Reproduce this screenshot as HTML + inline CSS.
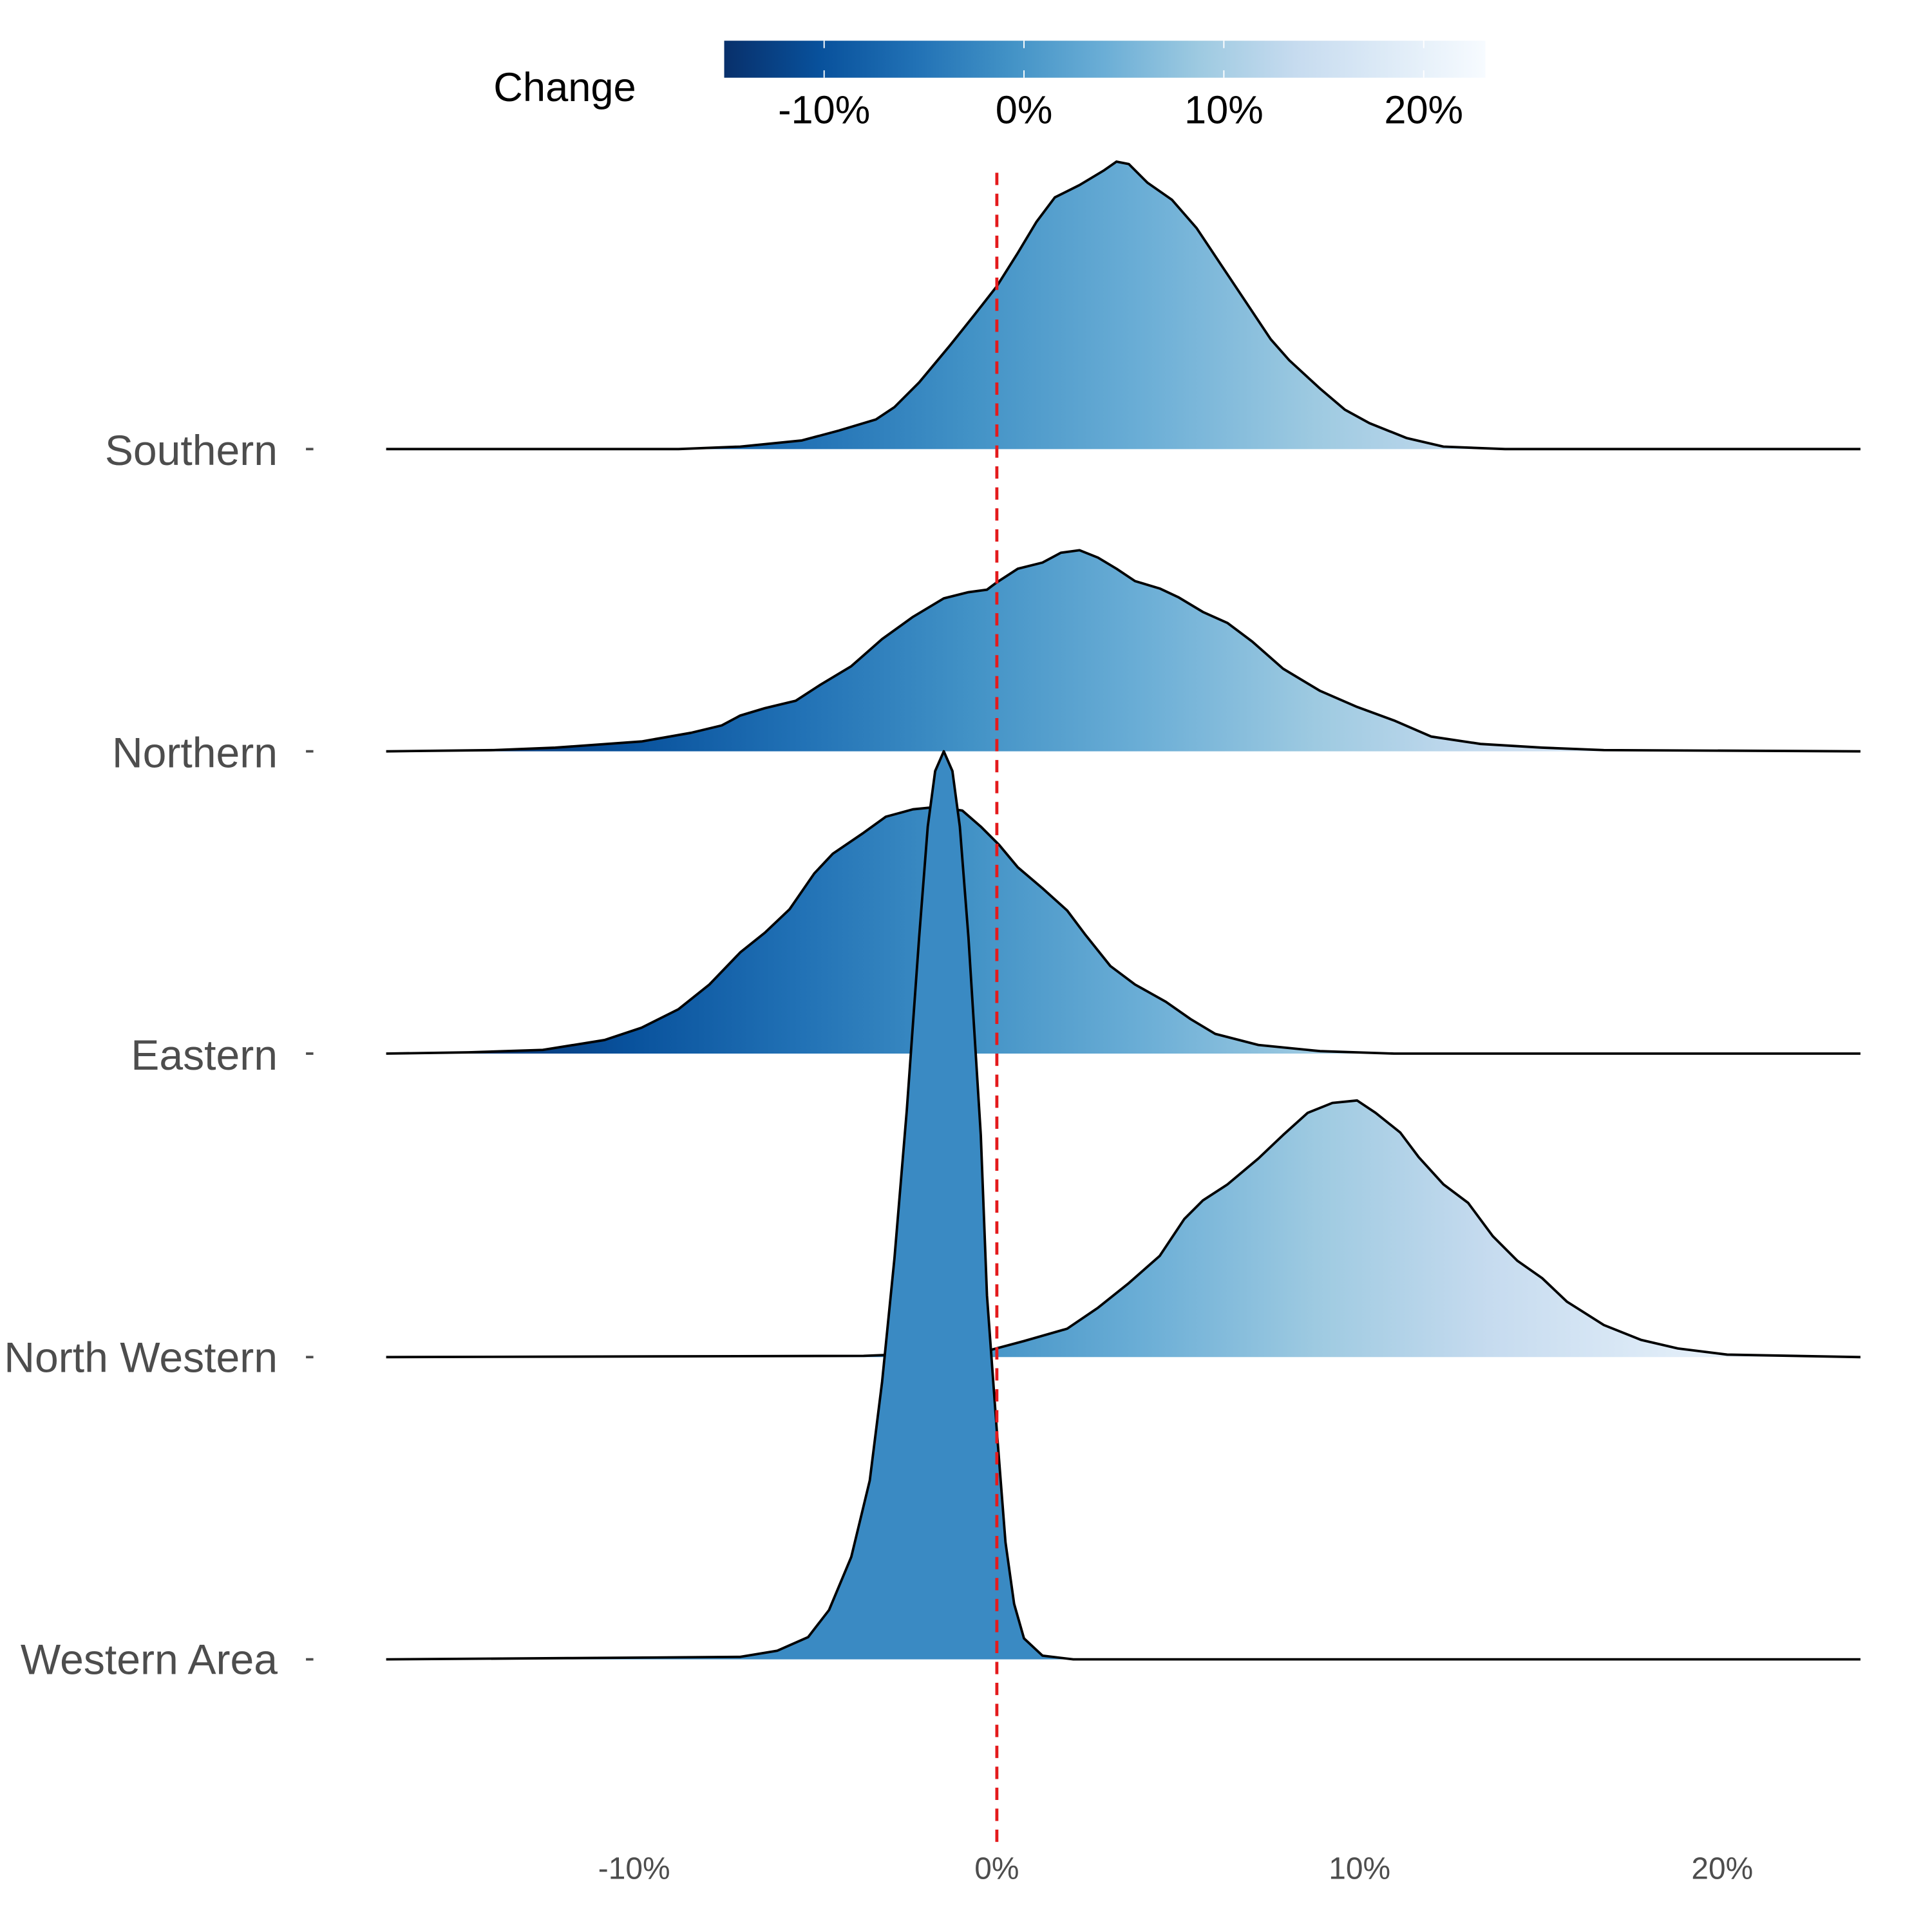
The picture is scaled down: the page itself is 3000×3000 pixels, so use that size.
<!DOCTYPE html>
<html><head><meta charset="utf-8"><style>html,body{margin:0;padding:0;background:#fff}svg{display:block}</style></head>
<body>
<svg width="3000" height="3000" viewBox="0 0 1566 1566" xmlns="http://www.w3.org/2000/svg" font-family="Liberation Sans, sans-serif">
<defs>
<linearGradient id="g" gradientUnits="userSpaceOnUse" x1="367" y1="0" x2="1487" y2="0">
<stop offset="0" stop-color="#08306b"/><stop offset="0.125" stop-color="#08519c"/><stop offset="0.25" stop-color="#2171b5"/><stop offset="0.375" stop-color="#4292c6"/><stop offset="0.5" stop-color="#6baed6"/><stop offset="0.625" stop-color="#9ecae1"/><stop offset="0.75" stop-color="#c6dbef"/><stop offset="0.875" stop-color="#deebf7"/><stop offset="1" stop-color="#f7fbff"/>
</linearGradient>
<linearGradient id="cb" x1="0" y1="0" x2="1" y2="0">
<stop offset="0" stop-color="#08306b"/><stop offset="0.125" stop-color="#08519c"/><stop offset="0.25" stop-color="#2171b5"/><stop offset="0.375" stop-color="#4292c6"/><stop offset="0.5" stop-color="#6baed6"/><stop offset="0.625" stop-color="#9ecae1"/><stop offset="0.75" stop-color="#c6dbef"/><stop offset="0.875" stop-color="#deebf7"/><stop offset="1" stop-color="#f7fbff"/>
</linearGradient>
</defs>
<rect x="587" y="33" width="617" height="30" fill="url(#cb)"/>
<g stroke="#fff" stroke-width="1"><line x1="668" y1="33" x2="668" y2="39"/><line x1="668" y1="57" x2="668" y2="63"/><line x1="830" y1="33" x2="830" y2="39"/><line x1="830" y1="57" x2="830" y2="63"/><line x1="992" y1="33" x2="992" y2="39"/><line x1="992" y1="57" x2="992" y2="63"/><line x1="1154" y1="33" x2="1154" y2="39"/><line x1="1154" y1="57" x2="1154" y2="63"/></g>
<text x="400" y="82" font-size="33" fill="#000">Change</text>
<g font-size="32" fill="#000" text-anchor="middle"><text x="668" y="100">-10%</text><text x="830" y="100">0%</text><text x="992" y="100">10%</text><text x="1154" y="100">20%</text></g>
<g font-size="34.5" fill="#4d4d4d" text-anchor="end">
<text x="225" y="377">Southern</text><text x="225" y="622">Northern</text><text x="225" y="867">Eastern</text><text x="225" y="1112">North Western</text><text x="225" y="1357">Western Area</text></g>
<g stroke="#4d4d4d" stroke-width="2"><line x1="248" y1="364" x2="254" y2="364"/><line x1="248" y1="609" x2="254" y2="609"/><line x1="248" y1="854" x2="254" y2="854"/><line x1="248" y1="1100" x2="254" y2="1100"/><line x1="248" y1="1345" x2="254" y2="1345"/></g>
<g font-size="25" fill="#4d4d4d" text-anchor="middle"><text x="514" y="1523">-10%</text><text x="808" y="1523">0%</text><text x="1102" y="1523">10%</text><text x="1396" y="1523">20%</text></g>
<g stroke="#000" stroke-width="2" stroke-linejoin="round" fill="url(#g)">
<polyline points="313,364 550,364 600,362 650,357 680,349 710,340 725,330 745,310 770,280 790,255 808,232 825,205 840,180 855,160 875,150 895,138 905,131 915,133 930,148 950,162 970,185 990,215 1010,245 1030,275 1045,292 1070,315 1090,332 1110,343 1140,355 1170,362 1220,364 1508,364"/>
<polyline points="313,609 400,608 450,606 520,601 560,594 585,588 600,580 620,574 645,568 665,555 690,540 715,518 740,500 765,485 785,480 800,478 808,472 825,461 845,456 860,448 875,446 890,452 905,461 920,471 940,477 955,484 975,496 995,505 1015,520 1040,542 1070,560 1100,573 1130,584 1160,597 1200,603 1250,606 1300,608 1508,609"/>
<polyline points="313,854 380,853 440,851 490,843 520,833 550,818 575,798 600,772 620,756 640,737 660,708 675,692 700,675 718,662 740,656 760,654 780,657 795,670 810,685 825,703 845,720 865,738 880,758 900,783 920,798 945,812 965,826 985,838 1020,847 1070,852 1130,854 1508,854"/>
<polyline points="313,1100 700,1099 800,1095 830,1087 865,1077 890,1060 915,1040 940,1018 960,988 975,973 995,960 1020,939 1040,920 1060,902 1080,894 1100,892 1115,902 1135,918 1150,938 1170,960 1190,975 1210,1002 1230,1022 1250,1036 1270,1055 1300,1074 1330,1086 1360,1093 1400,1098 1508,1100"/>
<polyline fill="#3a8ac3" points="313,1345 460,1344 600,1343 630,1338 655,1327 672,1305 690,1262 705,1200 715,1120 725,1020 735,900 745,760 752,670 758,625 765,609 772,625 778,670 785,760 795,920 800,1050 808,1160 815,1250 822,1300 830,1328 845,1342 870,1345 1508,1345"/>
</g>
<line x1="808" y1="140" x2="808" y2="1495" stroke="#e41a1c" stroke-width="2.5" stroke-dasharray="10,7"/>
</svg>
</body></html>
